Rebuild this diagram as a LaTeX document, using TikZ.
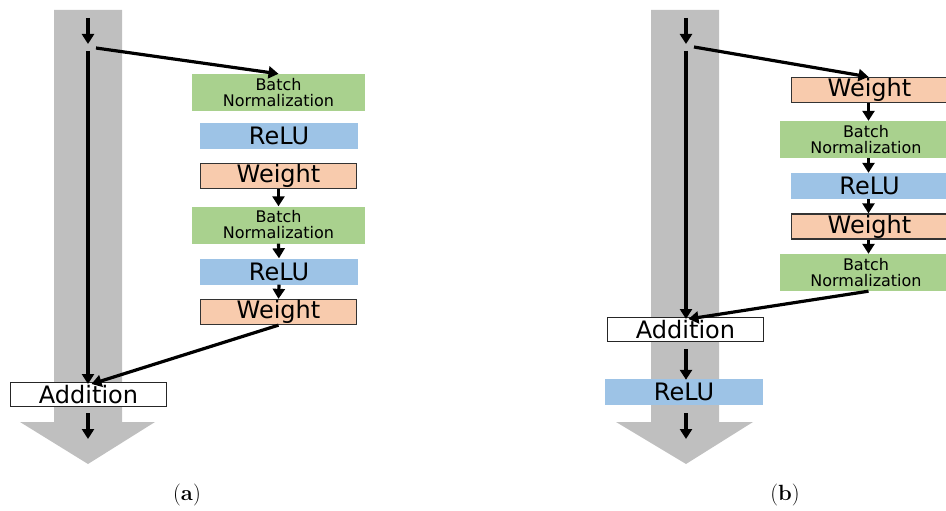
\documentclass[tikz,border=0pt]{standalone}
\usepackage{fontspec}
\newfontfamily\boxfont{DejaVu Sans}
\usetikzlibrary{arrows.meta}
\definecolor{bngreen}{HTML}{A9D18E}
\definecolor{relublue}{HTML}{9DC3E6}
\definecolor{wtorange}{HTML}{F8CBAD}
\definecolor{bargray}{HTML}{BFBFBF}
\tikzset{
  box/.style={inner sep=0pt, align=center, font=\boxfont\fontsize{24}{26}\selectfont},
  bnbox/.style={box, fill=bngreen, minimum width=173pt, minimum height=37pt, font=\boxfont\fontsize{16}{16}\selectfont},
  relubox/.style={box, fill=relublue, minimum width=158pt, minimum height=26pt},
  wtbox/.style={box, fill=wtorange, draw=black!80, line width=1.3pt, minimum width=156pt, minimum height=25pt},
  addbox/.style={box, fill=white, draw=black!85, line width=1pt, minimum width=156pt, minimum height=24pt},
  arr/.style={line width=3.2pt, -{Triangle[length=10pt,width=12pt]}},
  lab/.style={font=\fontsize{22}{26}\selectfont}
}
\begin{document}
\begin{tikzpicture}[x=1pt,y=-1pt]
\useasboundingbox (0,0) rectangle (946,511);
% ---------- panel (a) ----------
\fill[bargray] (54,10) -- (122,10) -- (122,422) -- (155,422) -- (88,464) -- (20,422) -- (54,422) -- cycle;
\coordinate (a0) at (88,18);
\coordinate (a1) at (88,44);
\coordinate (as) at (88,51);
\coordinate (ad) at (96,48);
\coordinate (a2) at (88,413);
\coordinate (a3) at (88,439);
\node[bnbox]   (bn1) at (278.5,92.5) {Batch\\Normalization};
\node[relubox] (re1) at (279,136) {ReLU};
\node[wtbox]   (w1)  at (278.5,176) {Weight};
\node[bnbox]   (bn2) at (278.5,225) {Batch\\Normalization};
\node[relubox] (re2) at (279,271.5) {ReLU};
\node[wtbox]   (w2)  at (278.5,312) {Weight};
\node[addbox]  (add1) at (88.5,394.5) {Addition};
\node[lab] (la) at (187,495) {(\textbf{a})};
\draw[arr] (a0) -- (a1);
\draw[arr] (ad) -- (bn1.north);
\draw[arr] (as) -- ([yshift=-2]add1.north -| as);
\draw[arr] (w1.south) -- (bn2.north);
\draw[arr] (bn2.south) -- (re2.north);
\draw[arr] (re2.south) -- (w2.south |- w2.north);
\draw[arr] (w2.south) -- ([xshift=3,yshift=-2]add1.north);
\draw[arr] (a2) -- (a3);
% ---------- panel (b) ----------
\fill[bargray] (651,10) -- (719,10) -- (719,422) -- (753,422) -- (686,464) -- (616,422) -- (651,422) -- cycle;
\coordinate (b0) at (686,18);
\coordinate (b1) at (686,44);
\coordinate (bs) at (686,51);
\coordinate (bd) at (694,47);
\coordinate (b2) at (686,413);
\coordinate (b3) at (686,439);
\node[wtbox]   (v1)  at (869.5,90) {Weight};
\node[bnbox]   (cn1) at (866,139.5) {Batch\\Normalization};
\node[relubox] (se1) at (869.5,186) {ReLU};
\node[wtbox]   (v2)  at (869.5,226.5) {Weight};
\node[bnbox]   (cn2) at (866,272.5) {Batch\\Normalization};
\node[addbox]  (add2) at (685.5,329.5) {Addition};
\node[relubox] (se2) at (684,392) {ReLU};
\node[lab] (lb) at (785,495) {(\textbf{b})};
\draw[arr] (b0) -- (b1);
\draw[arr] (bd) -- ([xshift=-1]v1.north);
\draw[arr] (bs) -- ([yshift=-2]add2.north -| bs);
\draw[arr] ([xshift=-1]v1.south) -- ([xshift=2.5]cn1.north);
\draw[arr] ([xshift=2.5]cn1.south) -- ([xshift=-1]se1.north);
\draw[arr] ([xshift=-1]se1.south) -- ([xshift=-1]v2.north);
\draw[arr] ([xshift=-1]v2.south) -- ([xshift=2.5]cn2.north);
\draw[arr] ([xshift=2.5]cn2.south) -- ([xshift=3,yshift=-2]add2.north);
\draw[arr] ([yshift=-7]add2.south -| bs) -- ([yshift=-1]se2.north -| bs);
\draw[arr] (b2) -- (b3);
\end{tikzpicture}
\end{document}
